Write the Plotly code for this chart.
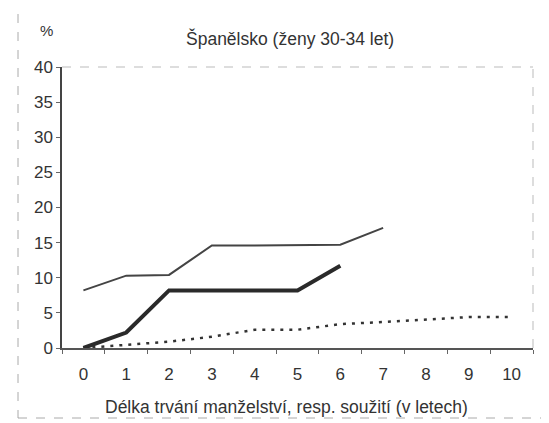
import plotly.graph_objects as go

years = ["0", "1", "2", "3", "4", "5", "6", "7", "8", "9", "10"]
thin_vals = [8.2, 10.3, 10.4, 14.6, 14.6, 14.6, 14.7, 17.1]
thick_vals = [0.0, 2.2, 8.2, 8.2, 8.2, 8.2, 11.7]
dotted_vals = [0.0, 0.4, 0.9, 1.6, 2.6, 2.6, 3.4, 3.7, 4.0, 4.4, 4.4]
y_ticks = [0, 5, 10, 15, 20, 25, 30, 35, 40]

title_text = "Španělsko (ženy 30-34 let)"
x_title = "Délka trvání manželství, resp. soužití (v letech)"

FONT = "Liberation Sans, Arial, sans-serif"

# page offset from default body margin (8px)
OFF = 8
PL, PR, PT, PB = 62, 533, 67, 348  # target plot area in page pixels
W, H = 549 - OFF, 423 - OFF
pw, ph = PR - PL, PB - PT


def px(x):
    return (x - PL) / pw


def py(y):
    return (PB - y) / ph


fig = go.Figure()
fig.add_trace(go.Scatter(x=years[:len(dotted_vals)], y=dotted_vals, mode="lines",
                         line=dict(color="#333333", width=2.5, dash="3px,6px"), showlegend=False))
fig.add_trace(go.Scatter(x=years[:len(thin_vals)], y=thin_vals, mode="lines",
                         line=dict(color="#444444", width=2), showlegend=False))
fig.add_trace(go.Scatter(x=years[:len(thick_vals)], y=thick_vals, mode="lines",
                         line=dict(color="#2a2a2a", width=4), showlegend=False))

fig.update_layout(
    width=W, height=H,
    margin=dict(l=PL - OFF, r=W - (PR - OFF), t=PT - OFF, b=H - (PB - OFF)),
    paper_bgcolor="white", plot_bgcolor="white",
    font=dict(family=FONT, color="#333333", size=17),
    xaxis=dict(type="category", categoryorder="array", categoryarray=years,
               tickmode="array", tickvals=years, ticktext=years,
               tickson="boundaries", ticks="outside", ticklen=4, tickcolor="#666",
               showline=True, linecolor="#555", linewidth=1.5, showgrid=False,
               zeroline=False, tickfont=dict(size=17, color="#333"),
               ticklabelstandoff=10,
               range=[-0.5, 10.5]),
    yaxis=dict(range=[0, 40], tickmode="array", tickvals=y_ticks,
               ticks="outside", ticklen=4, tickcolor="#666",
               showline=True, linecolor="#444", linewidth=1.5, showgrid=False,
               zeroline=False, tickfont=dict(size=17, color="#333")),
)

# plot area top/right dashed borders
fig.add_shape(type="line", xref="paper", yref="paper", x0=0, x1=1, y0=1, y1=1,
              line=dict(color="#bbbbbb", width=1, dash="dash"))
fig.add_shape(type="line", xref="paper", yref="paper", x0=1, x1=1, y0=0, y1=1,
              line=dict(color="#bbbbbb", width=1, dash="dash"))
# outer frame
fig.add_shape(type="rect", xref="paper", yref="paper",
              x0=px(18), x1=px(547), y0=py(418), y1=py(7),
              line=dict(color="#aaaaaa", width=1, dash="dash"))

fig.add_annotation(text=title_text, xref="paper", yref="paper",
                   x=px(290), y=py(38), showarrow=False,
                   font=dict(size=17.5, color="#333"), xanchor="center", yanchor="middle")
fig.add_annotation(text="%", xref="paper", yref="paper",
                   x=px(46), y=py(30), showarrow=False,
                   font=dict(size=15, color="#333"), xanchor="center", yanchor="middle")
fig.add_annotation(text=x_title, xref="paper", yref="paper",
                   x=px(286), y=py(407), showarrow=False,
                   font=dict(size=17.5, color="#333"), xanchor="center", yanchor="middle")

fig.write_html("out.html")
